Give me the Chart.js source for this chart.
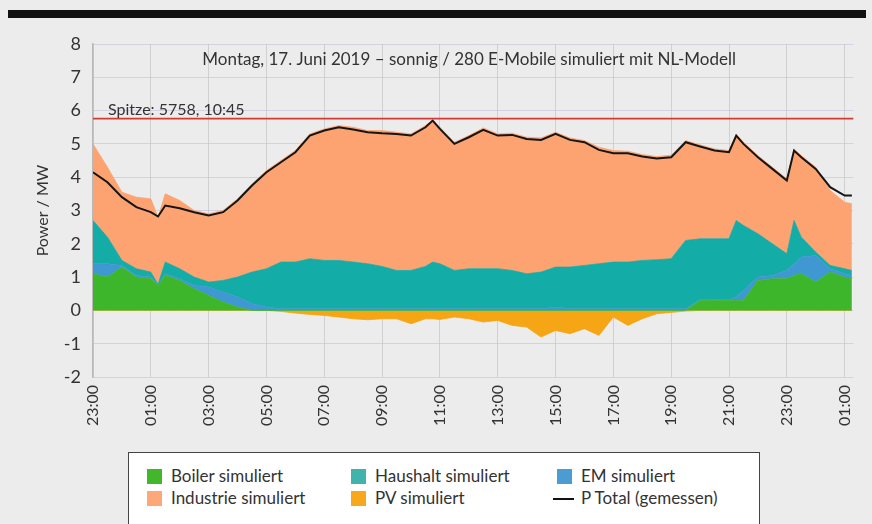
<!DOCTYPE html>
<html>
<head>
<meta charset="utf-8">
<script src="https://cdn.jsdelivr.net/npm/chart.js@4.4.0/dist/chart.umd.min.js"></script>
<style>
  html, body { margin: 0; padding: 0; background: #ececec; }
  body { width: 872px; height: 524px; position: relative; overflow: hidden; font-family: Lato, "Open Sans", sans-serif; }
  #topbar { position: absolute; left: 8px; top: 10px; width: 858px; height: 8px; background: #111; }
  #wrap { position: absolute; left: 0; top: 0; width: 872px; height: 524px; }
  #legend { position: absolute; left: 128px; top: 452px; width: 632px; height: 80px; background: #fff; border: 1.5px solid #444; box-sizing: border-box; }
  .item { position: absolute; font-size: 17px; color: #333; line-height: 18px; white-space: nowrap; }
  .sw { position: absolute; width: 15px; height: 15px; }
  .ln { position: absolute; width: 21px; height: 2px; background: #111; }
</style>
</head>
<body>
<div id="topbar"></div>
<div id="wrap"><canvas id="chart" width="872" height="524"></canvas></div>
<div id="legend"></div>
<script>
// Zeitpunkte (Montag 23:00 Vortag bis Dienstag 01:15)
const times = ['23:00','23:30','00:00','00:30','01:00','01:15','01:30','02:00','02:30','03:00','03:30','04:00','04:30','05:00',
  '05:30','06:00','06:30','07:00','07:30','08:00','08:30','09:00','09:30','10:00',
  '10:30','10:45','11:00','11:30','12:00','12:30','13:00','13:30','14:00','14:30',
  '15:00','15:30','16:00','16:30','17:00','17:30','18:00','18:30','19:00','19:30',
  '20:00','20:30','21:00','21:15','21:30','22:00','22:30','23:00','23:15','23:30','00:00','00:30','01:00','01:15'];

const tickLabels = ['23:00','01:00','03:00','05:00','07:00','09:00','11:00','13:00','15:00','17:00','19:00','21:00','23:00','01:00'];

// MW
const boiler = [1.1,1.0,1.3,1.0,0.95,0.75,1.05,0.9,0.65,0.45,0.25,0.1,0,0,
  0,0,0,0,0,0,0,0,0,0,
  0,0,0,0,0,0,0,0,0,0,
  0,0,0,0,0,0,0,0,0,0,
  0.3,0.3,0.3,0.3,0.3,0.9,0.95,0.95,1.05,1.1,0.85,1.15,1.0,0.95];
const em = [0.3,0.4,0.05,0.05,0.05,0.01,0.05,0.05,0.1,0.25,0.3,0.3,0.2,0.1,
  0.05,0.05,0.05,0.05,0.05,0.05,0.05,0.05,0.05,0.05,
  0.05,0.05,0.05,0.05,0.05,0.05,0.05,0.05,0.05,0.05,
  0.1,0.05,0.05,0.05,0.05,0.05,0.05,0.05,0.05,0.05,
  0.02,0.02,0.02,0.1,0.3,0.1,0.1,0.25,0.35,0.5,0.8,0.1,0.1,0.1];
const haushalt = [1.3,0.8,0.15,0.2,0.15,0.02,0.35,0.3,0.25,0.15,0.35,0.6,0.95,1.15,
  1.4,1.4,1.5,1.45,1.45,1.4,1.35,1.27,1.15,1.15,
  1.27,1.4,1.35,1.15,1.2,1.2,1.2,1.15,1.05,1.1,
  1.2,1.25,1.3,1.35,1.4,1.4,1.45,1.47,1.5,2.05,
  1.83,1.83,1.83,2.3,1.95,1.3,0.95,0.5,1.3,0.6,0.1,0.1,0.15,0.15];
const industrie = [2.3,2.1,2.05,2.15,2.2,2.02,2.05,2.05,2.0,2.05,2.1,2.35,2.65,2.95,
  3.05,3.35,3.75,3.95,4.05,4.05,4.0,4.08,4.15,4.1,
  4.23,4.27,4.1,3.85,4.0,4.23,4.05,4.12,4.1,4.03,
  4.05,3.88,3.75,3.5,3.35,3.33,3.18,3.1,3.11,3.0,
  2.82,2.7,2.65,2.58,2.5,2.35,2.3,2.25,2.15,2.45,2.55,2.25,2.0,2.0];
const pv = [0,0,0,0,0,0,0,0,0,0,0,0,0,0,
  -0.03,-0.08,-0.12,-0.15,-0.2,-0.25,-0.28,-0.25,-0.25,-0.4,
  -0.25,-0.25,-0.27,-0.2,-0.25,-0.35,-0.3,-0.45,-0.5,-0.8,
  -0.6,-0.7,-0.55,-0.75,-0.2,-0.45,-0.25,-0.1,-0.06,-0.02,
  0,0,0,0,0,0,0,0,0,0,0,0,0,0];
const total = [4.15,3.85,3.4,3.1,2.95,2.82,3.15,3.07,2.95,2.85,2.95,3.3,3.75,4.15,
  4.45,4.75,5.25,5.4,5.5,5.43,5.35,5.32,5.3,5.25,
  5.5,5.7,5.45,5.0,5.2,5.42,5.25,5.27,5.15,5.12,
  5.3,5.12,5.05,4.82,4.72,4.72,4.62,4.56,4.6,5.05,
  4.92,4.8,4.75,5.25,5.0,4.6,4.25,3.9,4.8,4.6,4.25,3.7,3.45,3.45];

const peakValue = 5.758;
const peakTime = '10:45';
const title = 'Montag, 17. Juni 2019 – sonnig / 280 E-Mobile simuliert mit NL-Modell';

const FONT = 'Lato, "Open Sans", sans-serif';
const TEXT = '#333';

// Stunden seit 23:00, mit Tageswechsel
const hours = [];
let day = 0, prev = -1;
times.forEach(t => {
    const [h, m] = t.split(':').map(Number);
    const mins = h * 60 + m;
    if (mins < prev) day++;
    prev = mins;
    hours.push((mins + day * 1440 - 23 * 60) / 60);
});
const xy = arr => arr.map((v, i) => ({ x: hours[i], y: v }));

const series = [
    { label: 'Boiler simuliert', color: '#3db62b', legend: '#42b72c' },
    { label: 'Haushalt simuliert', color: '#13aca7', legend: '#40b3ad' },
    { label: 'EM simuliert', color: '#3f98d2', legend: '#4a9cd2' },
    { label: 'Industrie simuliert', color: '#fca371', legend: '#fda878' },
    { label: 'PV simuliert', color: '#f6a515', legend: '#f8a81c' },
    { label: 'P Total (gemessen)', color: '#151515', line: true }
];

// HTML-Legende, 3 Spalten
const legendEl = document.getElementById('legend');
const colX = [18, 222, 428];
const rowY = [24, 46];
series.forEach((s, i) => {
    const col = i % 3, row = Math.floor(i / 3);
    const mark = document.createElement('div');
    if (s.line) {
        mark.className = 'ln';
        mark.style.left = (colX[col] - 4) + 'px';
        mark.style.top = (rowY[row] - 1) + 'px';
    } else {
        mark.className = 'sw';
        mark.style.background = s.legend;
        mark.style.left = colX[col] + 'px';
        mark.style.top = (rowY[row] - 8) + 'px';
    }
    legendEl.appendChild(mark);
    const txt = document.createElement('div');
    txt.className = 'item';
    txt.textContent = s.label;
    txt.style.left = (colX[col] + 24) + 'px';
    txt.style.top = (rowY[row] - 10) + 'px';
    legendEl.appendChild(txt);
});

const decorPlugin = {
    id: 'decor',
    afterDatasetsDraw(chart) {
        const { ctx, chartArea, scales } = chart;
        const yPeak = scales.y.getPixelForValue(peakValue);
        ctx.save();
        ctx.strokeStyle = '#d23a32';
        ctx.lineWidth = 1.6;
        ctx.beginPath();
        ctx.moveTo(chartArea.left, yPeak);
        ctx.lineTo(chartArea.right, yPeak);
        ctx.stroke();

        ctx.fillStyle = TEXT;
        ctx.font = '16px ' + FONT;
        ctx.textBaseline = 'alphabetic';
        ctx.textAlign = 'left';
        ctx.fillText('Spitze: ' + Math.round(peakValue * 1000) + ', ' + peakTime, chartArea.left + 15, yPeak - 4);

        ctx.font = '17px ' + FONT;
        ctx.textAlign = 'center';
        ctx.textBaseline = 'middle';
        ctx.fillText(title, (chartArea.left + chartArea.right) / 2 - 4, chartArea.top + 16);
        ctx.restore();
    }
};

const areaSet = (s, data, fill, stack) => ({
    label: s.label,
    data: xy(data),
    backgroundColor: s.color,
    borderColor: s.color,
    borderWidth: 0.8,
    pointRadius: 0,
    tension: 0,
    fill: fill,
    stack: stack
});

new Chart(document.getElementById('chart'), {
    type: 'line',
    data: {
        datasets: [
            {
                label: series[5].label,
                data: xy(total),
                borderColor: series[5].color,
                borderWidth: 2,
                pointRadius: 0,
                tension: 0,
                fill: false,
                stack: 'total'
            },
            areaSet(series[0], boiler, 'origin', 'load'),
            areaSet(series[2], em, '-1', 'load'),
            areaSet(series[1], haushalt, '-1', 'load'),
            areaSet(series[3], industrie, '-1', 'load'),
            areaSet(series[4], pv, 'origin', 'pv')
        ]
    },
    options: {
        responsive: false,
        animation: false,
        layout: { padding: { left: 0, right: 14, top: 44, bottom: 0 } },
        plugins: {
            legend: { display: false },
            tooltip: { enabled: false }
        },
        scales: {
            x: {
                type: 'linear',
                min: 0,
                max: 26.3,
                afterBuildTicks: axis => {
                    axis.ticks = tickLabels.map((_, i) => ({ value: i * 2 }));
                },
                afterFit: scale => { scale.height = 147; },
                ticks: {
                    autoSkip: false,
                    minRotation: 90,
                    maxRotation: 90,
                    padding: 8,
                    color: TEXT,
                    font: { family: FONT, size: 16 },
                    callback: (value, index) => tickLabels[index]
                },
                grid: { color: '#d0d0d0', drawTicks: false },
                border: { display: false }
            },
            y: {
                stacked: true,
                min: -2,
                max: 8,
                afterFit: scale => { scale.width = 93; },
                ticks: {
                    stepSize: 1,
                    padding: 12,
                    color: TEXT,
                    font: { family: FONT, size: 18 }
                },
                grid: { color: 'rgba(190, 190, 215, 0.55)', drawTicks: false },
                border: { color: '#b8b8b8', width: 1.5 },
                title: {
                    display: true,
                    text: 'Power / MW',
                    color: TEXT,
                    padding: { top: 33, bottom: 0 },
                    font: { family: FONT, size: 16 }
                }
            }
        }
    },
    plugins: [decorPlugin]
});
</script>
</body>
</html>
